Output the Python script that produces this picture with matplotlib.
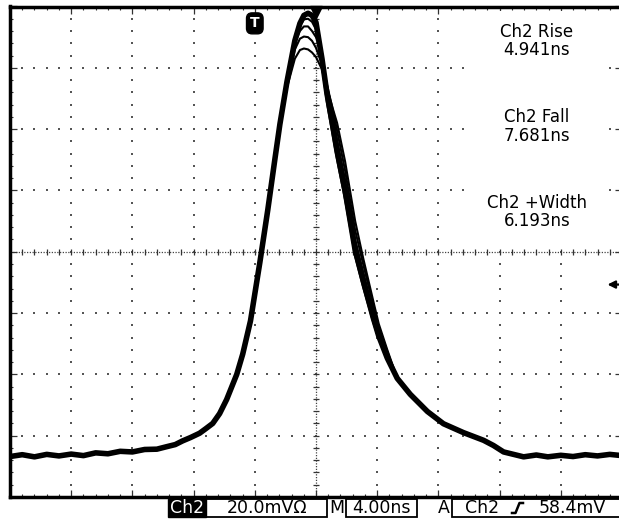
"""Oscilloscope capture: Ch2 pulse, persistence of several acquisitions."""
import numpy as np
import matplotlib
matplotlib.use('Agg')
import matplotlib.pyplot as plt
from matplotlib.patches import Rectangle

plt.rcParams['font.family'] = 'DejaVu Sans'

# ------------------------------------------------------------
# waveform data: time (ns, 0 = screen centre), voltage (mV, 0 = screen centre)
# ------------------------------------------------------------
t_rise = [-20.0, -19.2, -18.4, -17.6, -16.8, -16.0, -15.2, -14.4, -13.6, -12.8,
          -12.0, -11.2, -10.4, -9.77, -9.2, -8.72, -8.2, -7.61, -7.2, -6.75,
          -6.30, -5.84, -5.18, -4.79, -4.28, -3.67, -3.15, -2.69]
v_rise = [-66.8, -66.2, -66.9, -66.1, -66.6, -66.0, -66.5, -65.6, -65.9, -65.1,
          -65.3, -64.5, -64.4, -63.6, -62.9, -61.7, -60.6, -59.2, -57.7, -56.0,
          -52.8, -48.2, -40.0, -33.4, -22.5, -3.5, 13.7, 30.1]

# peak region, one row per acquisition
t_mid = [-2.36, -1.90, -1.38, -1.05, -0.79, -0.52, -0.26, 0.0, 0.39, 0.72,
         1.11, 1.38, 1.90, 2.56, 3.08, 3.74, 4.1, 4.66]
v_mid_a = [41.6, 55.4, 68.9, 74.5, 77.1, 77.8, 77.1, 74.8, 63.0, 51.5,
           40.6, 32.7, 19.9, 0.5, -9.4, -21.5, -27.5, -34.7]
v_mid_b = [41.6, 55.4, 68.0, 72.0, 73.5, 73.5, 72.0, 70.0, 64.0, 54.0,
           44.0, 36.5, 23.5, 4.0, -6.5, -19.5, -26.0, -33.5]
v_mid_c = [41.0, 54.5, 66.0, 69.5, 70.2, 70.0, 68.8, 66.5, 61.0, 54.5,
           46.0, 39.5, 26.5, 7.0, -4.0, -17.5, -24.5, -32.5]
v_mid_d = [40.5, 53.5, 63.0, 65.8, 66.3, 66.0, 65.0, 63.5, 59.5, 53.5,
           46.5, 42.0, 29.5, 10.0, -2.0, -16.0, -23.5, -32.0]
v_mid_e = [41.6, 55.4, 68.5, 73.5, 75.8, 76.0, 75.0, 72.5, 60.5, 48.5,
           37.5, 30.0, 17.0, -1.5, -11.5, -23.0, -28.5, -35.0]

t_tail = [5.31, 6.16, 7.28, 8.33, 9.64, 10.95, 11.6, 12.26, 13.57, 14.4,
          15.15, 16.0, 16.8, 17.6, 18.4, 19.2, 20.0]
v_tail = [-41.3, -46.5, -52.1, -56.1, -59.0, -61.5, -63.2, -65.3, -66.9, -66.3,
          -66.9, -66.4, -66.8, -66.2, -66.6, -66.1, -66.5]

# measurements / status line
meas_names = ['Ch2 Rise', 'Ch2 Fall', 'Ch2 +Width']
meas_values = ['4.941ns', '7.681ns', '6.193ns']
ch_label = 'Ch2'
volts_div = '20.0mV\u03a9'
time_div = '4.00ns'
trig_src = 'Ch2'
trig_level = '58.4mV'
trig_pos_ns = -4.0      # 'T' marker
trig_level_mv = -10.7   # arrow on right edge

NS_DIV, MV_DIV = 4.0, 20.0
DOT = '#555555'

fig = plt.figure(figsize=(6.19, 5.22), dpi=100)
ax = fig.add_axes([10 / 619, 25 / 522, 612 / 619, 490.5 / 522])
ax.set_xlim(-5 * NS_DIV, 5 * NS_DIV)
ax.set_ylim(-4 * MV_DIV, 4 * MV_DIV)

xs = np.arange(-5 * NS_DIV, 5 * NS_DIV + 0.1, NS_DIV / 5)
ys = np.arange(-4 * MV_DIV, 4 * MV_DIV + 0.1, MV_DIV / 5)

# graticule: dotted division lines
for k in range(-4, 5):
    if k == 0:
        continue
    ax.plot(np.full(len(ys), k * NS_DIV), ys, ls='none', marker='s', ms=1.5,
            mew=0, color=DOT, zorder=1)
for k in range(-3, 4):
    if k == 0:
        continue
    ax.plot(xs, np.full(len(xs), k * MV_DIV), ls='none', marker='s', ms=1.5,
            mew=0, color=DOT, zorder=1)

# centre cross with minor ticks
ax.axhline(0, color='#444444', lw=0.9, ls=(0, (1, 1.2)), zorder=1)
ax.axvline(0, color='#444444', lw=0.9, ls=(0, (1, 1.2)), zorder=1)
ax.plot(xs, np.zeros(len(xs)), ls='none', marker='|', ms=4, mew=0.9,
        color='#333333', zorder=1)
ax.plot(np.zeros(len(ys)), ys, ls='none', marker='_', ms=4, mew=0.9,
        color='#333333', zorder=1)

# border ticks
ax.set_xticks(np.arange(-5 * NS_DIV, 5 * NS_DIV + 0.1, NS_DIV))
ax.set_xticks(xs, minor=True)
ax.set_yticks(np.arange(-4 * MV_DIV, 4 * MV_DIV + 0.1, MV_DIV))
ax.set_yticks(ys, minor=True)
ax.tick_params(which='both', direction='in', top=True, right=True,
               labelbottom=False, labelleft=False, color='#333333')
ax.tick_params(which='major', length=5, width=0.9)
ax.tick_params(which='minor', length=2.5, width=0.8)
for s in ax.spines.values():
    s.set_linewidth(2.5)
    s.set_color('black')

# waveforms
for vm, lw in [(v_mid_b, 1.5), (v_mid_c, 1.5), (v_mid_d, 1.5), (v_mid_e, 1.5),
               (v_mid_a, 4.0)]:
    t = t_rise + t_mid + t_tail
    v = v_rise + vm + v_tail
    ax.plot(t, v, color='black', lw=lw, solid_joinstyle='round', zorder=3)

# trigger markers
ax.text(trig_pos_ns, 74.5, 'T', color='white', fontsize=10, fontweight='bold',
        ha='center', va='center', zorder=4,
        bbox=dict(boxstyle='round,pad=0.25,rounding_size=0.4', fc='black', ec='black'))
ax.plot([0], [78.3], marker='v', ms=8.5, color='black', clip_on=False, zorder=5)
ax.annotate('', xy=(19.05, trig_level_mv), xytext=(20.0, trig_level_mv),
            arrowprops=dict(arrowstyle='-|>', color='black', lw=1.6,
                            mutation_scale=11, shrinkA=0, shrinkB=0),
            annotation_clip=False, zorder=5)

# overlay in screen pixels for readouts
ov = fig.add_axes([0, 0, 1, 1], zorder=5)
ov.set_xlim(0, 619)
ov.set_ylim(522, 0)
ov.axis('off')
ov.patch.set_visible(False)

ov.add_patch(Rectangle((467, 11), 139, 232, fc='white', ec='none'))
for i, (name, val) in enumerate(zip(meas_names, meas_values)):
    y0 = 41 + i * 85.5
    ov.text(537, y0, name + '\n' + val, ha='center', va='center',
            fontsize=12, linespacing=1.05)

sy, sh = 499, 18
ty = 508
ov.add_patch(Rectangle((168, sy), 38, sh, fc='black', ec='black', lw=1))
ov.text(187, ty, ch_label, color='white', ha='center', va='center', fontsize=12.5)
ov.add_patch(Rectangle((206, sy), 121, sh, fc='none', ec='black', lw=1.3))
ov.text(267, ty, volts_div, ha='center', va='center', fontsize=12.5)
ov.text(336.5, ty, 'M', ha='center', va='center', fontsize=12.5)
ov.add_patch(Rectangle((346, sy), 71, sh, fc='none', ec='black', lw=1.3))
ov.text(381, ty, time_div, ha='center', va='center', fontsize=12.5)
ov.text(443.5, ty, 'A', ha='center', va='center', fontsize=12.5)
ov.add_patch(Rectangle((452, sy), 200, sh, fc='none', ec='black', lw=1.3,
                       clip_on=False))
ov.text(482, ty, trig_src, ha='center', va='center', fontsize=12.5)
ov.plot([512, 515.5, 519.5, 523], [513, 513, 503, 503], color='black', lw=1.8)
ov.text(539, ty, trig_level, ha='left', va='center', fontsize=12.5)

fig.savefig('out.png', dpi=100, facecolor='white')
